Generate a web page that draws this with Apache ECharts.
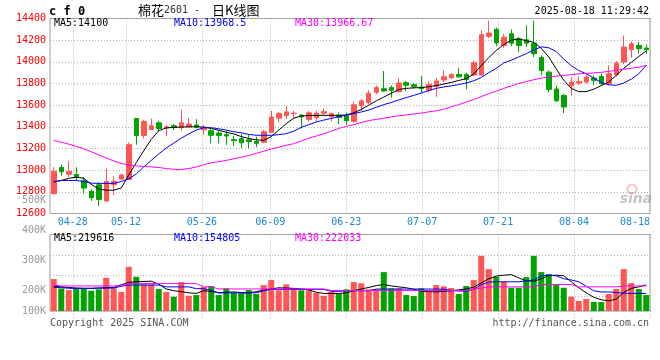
<!DOCTYPE html>
<html><head><meta charset="utf-8">
<script src="https://cdn.jsdelivr.net/npm/echarts@6/dist/echarts.min.js"></script>
<style>html,body{margin:0;padding:0;background:#fff;}#c{width:660px;height:360px;}</style>
</head><body><div id="c"></div>
<script>
const dates = ['04-23','04-24','04-25','04-28','04-29','04-30','05-06','05-07','05-08','05-09',
'05-12','05-13','05-14','05-15','05-16','05-19','05-20','05-21','05-22','05-23',
'05-26','05-27','05-28','05-29','05-30','06-03','06-04','06-05','06-06','06-09',
'06-10','06-11','06-12','06-13','06-16','06-17','06-18','06-19','06-20','06-23',
'06-24','06-25','06-26','06-27','06-30','07-01','07-02','07-03','07-04','07-07',
'07-08','07-09','07-10','07-11','07-14','07-15','07-16','07-17','07-18','07-21',
'07-22','07-23','07-24','07-25','07-28','07-29','07-30','07-31','08-01','08-04',
'08-05','08-06','08-07','08-08','08-11','08-12','08-13','08-14','08-15','08-18'];
const tickDates = ['04-28','05-12','05-26','06-09','06-23','07-07','07-21','08-04','08-18'];

const open = [12783,13025,12963,12960,12905,12805,12865,12715,12866,12917,
12915,13477,13320,13376,13437,13390,13410,13392,13401,13416,
13372,13364,13343,13330,13282,13291,13280,13266,13257,13350,
13480,13505,13522,13508,13468,13486,13526,13492,13508,13502,
13450,13594,13624,13719,13752,13762,13725,13808,13789,13768,
13738,13774,13832,13853,13884,13884,13878,13878,14236,14299,
14151,14259,14213,14204,14172,14040,13905,13749,13690,13778,
13804,13813,13850,13865,13798,13881,13998,14112,14151,14127];
const close = [12991,12985,12988,12940,12835,12745,12730,12895,12896,12955,
13235,13318,13450,13410,13385,13400,13395,13437,13426,13398,
13395,13322,13321,13315,13272,13252,13265,13248,13355,13490,
13523,13538,13526,13492,13529,13526,13540,13523,13486,13456,
13603,13640,13710,13762,13731,13738,13805,13783,13771,13752,
13792,13823,13862,13884,13862,13838,13991,14250,14266,14175,
14228,14172,14151,14172,14075,13920,13746,13640,13583,13813,
13819,13859,13829,13798,13890,13988,14136,14167,14121,14112];
const low = [12777,12949,12936,12905,12783,12716,12670,12713,12771,12917,
12915,13236,13294,13376,13358,13312,13371,13364,13395,13385,
13325,13248,13248,13233,13224,13205,13200,13211,13248,13349,
13440,13471,13471,13385,13447,13450,13502,13447,13426,13416,
13440,13548,13609,13701,13725,13670,13716,13731,13752,13716,
13716,13676,13814,13838,13853,13747,13869,13869,14220,14144,
14130,14144,14090,14136,14044,13875,13720,13629,13527,13690,
13783,13798,13783,13783,13783,13865,13976,14038,14075,14075];
const high = [13027,13052,13083,13027,12936,12823,12890,13015,12942,12967,
13257,13477,13465,13477,13455,13419,13426,13557,13480,13471,
13416,13380,13364,13364,13318,13334,13330,13309,13373,13548,
13538,13593,13548,13517,13548,13548,13569,13532,13532,13532,
13633,13655,13738,13783,13915,13783,13848,13823,13805,13869,
13823,13848,13921,13893,13945,13899,14013,14290,14380,14318,
14259,14299,14228,14336,14382,14060,13921,13783,13705,13859,
13865,13881,13875,13890,13967,14007,14243,14191,14182,14160];

const ma5 = [12895,12905,12925,12935,12925,12870,12825,12815,12815,12835,
12955,13070,13180,13285,13365,13390,13395,13398,13400,13400,
13398,13385,13368,13350,13335,13310,13293,13280,13275,13310,
13370,13430,13480,13500,13505,13506,13506,13506,13506,13510,
13530,13560,13600,13640,13675,13710,13745,13755,13760,13762,
13770,13780,13795,13810,13828,13845,13888,13965,14040,14105,
14160,14200,14212,14195,14180,14125,14045,13935,13830,13755,
13725,13725,13748,13780,13815,13875,13940,13995,14050,14100];
const ma10 = [12890,12905,12905,12905,12895,12880,12878,12878,12878,12895,
12920,12965,13030,13090,13150,13205,13250,13295,13335,13370,
13392,13392,13382,13370,13355,13345,13330,13322,13322,13322,
13328,13337,13360,13395,13420,13445,13462,13478,13495,13506,
13522,13537,13555,13580,13605,13625,13648,13670,13690,13712,
13735,13755,13768,13778,13790,13805,13825,13855,13900,13940,
13990,14015,14045,14075,14110,14138,14130,14095,14025,13965,
13920,13890,13850,13810,13788,13783,13805,13840,13890,13968];
const ma30 = [13275,13258,13240,13220,13198,13170,13142,13112,13085,13062,
13050,13040,13034,13030,13025,13015,13008,13006,13015,13030,
13050,13068,13078,13090,13105,13120,13135,13155,13175,13195,
13212,13230,13245,13270,13295,13315,13335,13360,13385,13405,
13420,13440,13458,13468,13480,13492,13502,13510,13518,13527,
13538,13548,13562,13585,13605,13628,13652,13680,13705,13730,
13755,13778,13800,13818,13835,13850,13860,13868,13875,13882,
13889,13894,13898,13903,13912,13922,13932,13941,13950,13967];

const volume = [239000,208000,202300,208000,208000,200000,204700,243300,208000,195700,
280000,246700,221300,221300,205700,195700,180000,229000,183300,185700,
212300,215700,185700,208000,193300,193300,202300,189000,219000,235700,
201300,221300,208000,201300,201300,193300,183300,195700,189000,204700,
229000,224700,204700,204700,262300,208000,208000,185700,182300,208000,
195700,219000,214700,209000,189000,215700,235700,316700,272300,246700,
230000,210000,210000,245700,316700,262300,255700,219000,210000,180000,
165700,172300,162300,162300,189000,205700,272300,225700,205700,185700];
const vma5 = [215000,213000,211000,209000,208000,208000,209000,210000,211000,220000,
228000,230000,231000,232000,222000,206000,200000,197000,193000,191000,
200000,198000,193000,195000,196000,194000,193000,197000,202000,206000,
210000,209000,208000,206000,203000,195000,191000,191000,191000,193000,
200000,206000,211000,217000,221000,216000,213000,210000,205000,199000,
197000,196000,198000,200000,203000,206000,212000,226000,240000,249000,
252000,254000,243000,233000,232000,240000,251000,252000,250000,230000,
210000,193000,178000,170000,166000,172000,195000,208000,213000,219600];
const vma10 = [211000,211000,208000,208000,208000,208000,209000,209000,209000,215000,
219000,219000,219000,219000,219000,213000,213000,213000,213000,207000,
207000,201000,193000,193000,193000,193000,193000,193000,200000,204700,
204700,204700,204700,204700,204700,204700,204700,198000,198000,200000,
200000,200000,200000,205700,205700,205700,205700,205700,205700,205700,
205700,205700,205000,201000,199000,199000,205000,220000,229000,230000,
230000,230000,230000,233000,236000,250000,252000,250000,240000,236000,
230000,215000,200000,196000,196000,194000,192000,191000,191000,191000];
const vma30 = [219000,216000,216000,216000,216000,216000,216000,216000,216000,216000,
224000,224000,224000,224000,224000,224000,224000,224000,224000,224000,
213000,213000,206000,206000,206000,206000,206000,206000,206000,206000,
206000,206000,206000,206000,206000,206000,206000,201000,201000,201000,
201000,201000,201000,201000,201000,201000,201000,201000,201000,201000,
201000,201000,201000,201000,201000,201000,205000,209000,213000,213000,
213000,213000,213000,213000,213000,221000,221000,221000,221000,221000,
213000,213000,213000,213000,213000,213000,216000,216000,216000,216000];

const legendMain = ['MA5:14100','MA10:13968.5','MA30:13966.67'];
const legendVol = ['MA5:219616','MA10:154805','MA30:222033'];
const maColors = ['#000000','#0000ff','#ff00ff'];

const MONO = '"DejaVu Sans Mono", monospace';
const UP = '#ff5555', DOWN = '#00a300', GRIDC = '#b0b0b0', BORDER = '#9c9c9c';
const dotted = {color: GRIDC, type: [1, 2], width: 1};
const isTick = (i) => tickDates.indexOf(dates[i]) >= 0;
const VMIN = 132333, VMAX = 388000;

const candleData = dates.map((d, i) => [open[i], close[i], low[i], high[i]]);
const volData = volume.map((v, i) => ({value: v, itemStyle: {color: close[i] >= open[i] ? UP : DOWN}}));

function txt(x, y, text, color, font, align) {
  return {type: 'text', x: x, y: y, silent: true, z: 100,
    style: {text: text, fill: color, font: font, textAlign: align || 'left', textVerticalAlign: 'middle', align: align || 'left', verticalAlign: 'middle'}};
}
const legendX = [54, 174, 295];
const graphics = [];
legendMain.forEach((t, k) => graphics.push(txt(legendX[k], 23.5, t, maColors[k], '10px ' + MONO)));
legendVol.forEach((t, k) => graphics.push(txt(legendX[k], 238.7, t, maColors[k], '10px ' + MONO)));
graphics.push(txt(49, 12, 'c f 0', '#000', 'bold 12px ' + MONO));
graphics.push(txt(138, 10, '棉花', '#000', '13px "Noto Sans CJK SC"'));
graphics.push(txt(164, 10.5, '2601 -', '#333', '10px ' + MONO));
graphics.push(txt(212, 10, '日K线图', '#000', '13px "Noto Sans CJK SC"'));
graphics.push(txt(649, 11.5, '2025-08-18 11:29:42', '#000', '10px ' + MONO, 'right'));
graphics.push(txt(50, 323.7, 'Copyright 2025 SINA.COM', '#555', '10px ' + MONO));
graphics.push(txt(649, 323.7, 'http://finance.sina.com.cn', '#555', '10px ' + MONO, 'right'));
graphics.push({type: 'circle', silent: true, z: 1, shape: {cx: 632, cy: 189, r: 4.5}, style: {fill: 'none', stroke: 'rgba(230,90,90,0.35)', lineWidth: 2}});
graphics.push(txt(636, 199, 'sina', 'rgba(150,150,150,0.55)', 'italic bold 14px "DejaVu Sans"', 'center'));

const chart = echarts.init(document.getElementById('c'), null, {renderer: 'canvas'});
chart.setOption({
  animation: false,
  backgroundColor: '#ffffff',
  grid: [
    {left: 50, right: 10, top: 18.5, height: 195, show: true, borderColor: BORDER, borderWidth: 1},
    {left: 50, right: 10, top: 234.5, height: 76.5, show: true, borderColor: BORDER, borderWidth: 1},
    {left: 50, right: 10, top: 200.3, height: 90.4, show: false}
  ],
  xAxis: [
    {type: 'category', gridIndex: 0, data: dates, boundaryGap: true, show: false, position: 'bottom'},
    {type: 'category', gridIndex: 0, data: dates, boundaryGap: false, position: 'bottom',
      axisLine: {show: false}, axisTick: {show: false},
      axisLabel: {interval: (i) => isTick(i), color: '#1f8ad5', fontFamily: MONO, fontSize: 10, margin: 4, showMaxLabel: true, alignMaxLabel: 'right'},
      splitLine: {show: true, interval: (i) => isTick(i), lineStyle: dotted}},
    {type: 'category', gridIndex: 1, data: dates, boundaryGap: true, show: false, position: 'bottom'},
    {type: 'category', gridIndex: 1, data: dates, boundaryGap: false, position: 'bottom',
      axisLine: {show: false},
      axisTick: {show: true, interval: (i) => isTick(i), length: 9, lineStyle: dotted},
      axisLabel: {show: false},
      splitLine: {show: true, interval: (i) => isTick(i), lineStyle: dotted}},
    {type: 'value', gridIndex: 2, min: 0, max: 1, show: false}
  ],
  yAxis: [
    {type: 'value', gridIndex: 0, min: 12600, max: 14400, interval: 200,
      axisLine: {show: false}, axisTick: {show: false},
      axisLabel: {color: '#ff0000', fontFamily: MONO, fontSize: 10, margin: 4, showMinLabel: true, showMaxLabel: true, padding: [0, 0, 5, 0], formatter: (v) => String(v)},
      splitLine: {show: true, lineStyle: dotted}},
    {type: 'value', gridIndex: 1, min: VMIN, max: VMAX, interval: 400000,
      axisLine: {show: false}, axisTick: {show: false},
      axisLabel: {color: '#999', fontFamily: MONO, fontSize: 10, margin: 4, showMinLabel: true, showMaxLabel: false,
        formatter: (v) => (v === VMIN ? '100K' : '')},
      splitLine: {show: false}},
    {type: 'value', gridIndex: 1, inverse: true, min: 0, max: 76.5, interval: 20.5,
      axisLine: {show: false}, axisTick: {show: false}, axisLabel: {show: false},
      splitLine: {show: true, lineStyle: dotted}},
    {type: 'value', gridIndex: 2, min: 200000, max: 500000, interval: 100000,
      axisLine: {show: false}, axisTick: {show: false}, splitLine: {show: false},
      axisLabel: {color: '#999', fontFamily: MONO, fontSize: 10, margin: 4, showMinLabel: true, showMaxLabel: true,
        formatter: (v) => (v / 1000) + 'K'}}
  ],
  series: [
    {type: 'candlestick', xAxisIndex: 0, yAxisIndex: 0, data: candleData, barWidth: 5,
      itemStyle: {color: UP, color0: DOWN, borderColor: UP, borderColor0: DOWN, borderWidth: 1}},
    {type: 'line', xAxisIndex: 0, yAxisIndex: 0, data: ma5, showSymbol: false, silent: true, lineStyle: {color: maColors[0], width: 1}, z: 5},
    {type: 'line', xAxisIndex: 0, yAxisIndex: 0, data: ma10, showSymbol: false, silent: true, lineStyle: {color: maColors[1], width: 1}, z: 5},
    {type: 'line', xAxisIndex: 0, yAxisIndex: 0, data: ma30, showSymbol: false, silent: true, lineStyle: {color: maColors[2], width: 1}, z: 5},
    {type: 'bar', xAxisIndex: 2, yAxisIndex: 1, data: volData, barWidth: 6},
    {type: 'line', xAxisIndex: 2, yAxisIndex: 1, data: vma5, showSymbol: false, silent: true, lineStyle: {color: maColors[0], width: 1}, z: 5},
    {type: 'line', xAxisIndex: 2, yAxisIndex: 1, data: vma10, showSymbol: false, silent: true, lineStyle: {color: maColors[1], width: 1}, z: 5},
    {type: 'line', xAxisIndex: 2, yAxisIndex: 1, data: vma30, showSymbol: false, silent: true, lineStyle: {color: maColors[2], width: 1}, z: 5}
  ],
  graphic: graphics
});
</script>
</body></html>
